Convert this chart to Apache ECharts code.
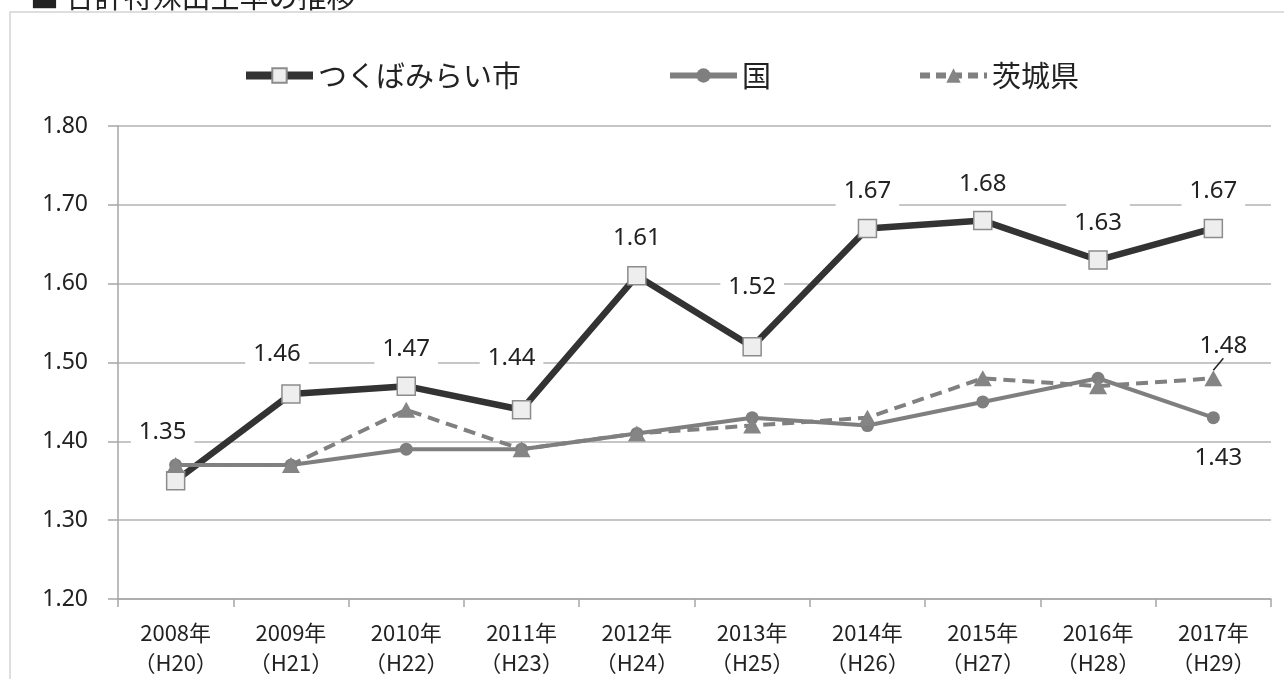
<!DOCTYPE html>
<html><head><meta charset="utf-8">
<script src="https://cdn.jsdelivr.net/npm/echarts@6/dist/echarts.min.js"></script>
<style>html,body{margin:0;padding:0;background:#fff}#c{width:1284px;height:679px}</style>
</head><body><div id="c"></div>
<script>
const categories = ['2008年\n（H20）','2009年\n（H21）','2010年\n（H22）','2011年\n（H23）','2012年\n（H24）','2013年\n（H25）','2014年\n（H26）','2015年\n（H27）','2016年\n（H28）','2017年\n（H29）'];
const tsukubamirai = [1.35,1.46,1.47,1.44,1.61,1.52,1.67,1.68,1.63,1.67];
const kuni = [1.37,1.37,1.39,1.39,1.41,1.43,1.42,1.45,1.48,1.43];
const ibaraki = [1.37,1.37,1.44,1.39,1.41,1.42,1.43,1.48,1.47,1.48];
const yTicks = [1.20,1.30,1.40,1.50,1.60,1.70,1.80];
const seriesNames = ['つくばみらい市','国','茨城県'];

// label offsets (style)
const tsukubaLabelOffsets = [[-13,-49],[-14,-40],[0,-37],[-10,-52],[0,-38],[0,-60],[0,-37],[0,-36],[0,-37],[0,-37]];

const FONT = '"Noto Sans", "Open Sans", sans-serif';
const JFONT = '"Noto Sans CJK JP", sans-serif';

const chart = echarts.init(document.getElementById('c'));
chart.setOption({
  animation: false,
  backgroundColor: '#ffffff',
  graphic: [
    {type:'rect', shape:{x:10, y:12, width:1300, height:700}, style:{fill:'none', stroke:'#d4d4d4', lineWidth:1.5}, z:-1},
    {type:'text', style:{x:30, y:11, text:'■ 合計特殊出生率の推移', font:'29px ' + JFONT, fill:'#222', verticalAlign:'bottom'}}
  ],
  legend: {
    data: [
      {name: seriesNames[0], lineStyle:{width:8, color:'#333333'}},
      {name: seriesNames[1], lineStyle:{width:6, color:'#7f7f7f'}},
      {name: seriesNames[2], lineStyle:{width:6, color:'#808080', type:[10,6]}}
    ],
    left: 237, top: 56,
    itemWidth: 67, itemHeight: 18, itemGap: 146,
    textStyle: {fontFamily: JFONT, fontSize: 29, color: '#222'}
  },
  grid: {left:118, right:13, top:126, bottom:80},
  xAxis: {
    type: 'category', data: categories, boundaryGap: true,
    axisLine: {lineStyle:{color:'#a6a6a6', width:1.5}},
    axisTick: {show:true, length:8, lineStyle:{color:'#a6a6a6', width:1.5}},
    axisLabel: {fontFamily: JFONT, fontSize: 22, color:'#222', lineHeight: 30, margin: 19, interval: 0}
  },
  yAxis: {
    type: 'value', min: 1.2, max: 1.8, interval: 0.1,
    axisLine: {show:true, lineStyle:{color:'#a6a6a6', width:1.5}},
    axisTick: {show:true, inside:false, length:10, lineStyle:{color:'#a6a6a6', width:1.5}},
    axisLabel: {fontFamily: FONT, fontSize: 23, color:'#222', margin: 30, formatter: v => v.toFixed(2)},
    splitLine: {lineStyle:{color:'#b3b3b3', width:1.5}}
  },
  series: [
    {
      name: seriesNames[0], type: 'line',
      data: tsukubamirai.map((v,i) => ({value: v, label: {offset: tsukubaLabelOffsets[i]}})),
      lineStyle: {color:'#333333', width:6.5},
      itemStyle: {color:'#eeeeee', borderColor:'#8c8c8c', borderWidth:1.5},
      symbol: 'rect', symbolSize: 18, showAllSymbol: true,
      label: {show:true, position:'inside', formatter: p => p.value.toFixed(2),
        fontFamily: FONT, fontSize: 24, color:'#222', backgroundColor:'#ffffff', padding:[7,8]},
      z: 2
    },
    {
      name: seriesNames[1], type: 'line',
      data: kuni.map((v,i) => i === kuni.length-1
        ? {value:v, label:{show:true, position:'inside', offset:[5,40], formatter: p => p.value.toFixed(2), fontFamily: FONT, fontSize:24, color:'#222'}}
        : v),
      lineStyle: {color:'#7f7f7f', width:4},
      itemStyle: {color:'#7f7f7f'},
      symbol: 'circle', symbolSize: 13, showAllSymbol: true,
      label: {show:false},
      z: 3
    },
    {
      name: seriesNames[2], type: 'line',
      data: ibaraki.map((v,i) => i === ibaraki.length-1
        ? {value:v, label:{show:true, position:'inside', formatter: p => p.value.toFixed(2), fontFamily: FONT, fontSize:24, color:'#222'},
           labelLine:{show:true, lineStyle:{color:'#222', width:1.5}}}
        : v),
      lineStyle: {color:'#808080', width:4, type:[12,7]},
      itemStyle: {color:'#858585'},
      symbol: 'triangle', symbolSize: [18,16], showAllSymbol: true,
      label: {show:false},
      labelLayout: function(p){ if (p.dataIndex === ibaraki.length-1) return {dx:10, dy:-32}; return {}; },
      labelLine: {show:true, lineStyle:{color:'#222', width:1.5}},
      z: 4
    }
  ]
});
</script></body></html>
